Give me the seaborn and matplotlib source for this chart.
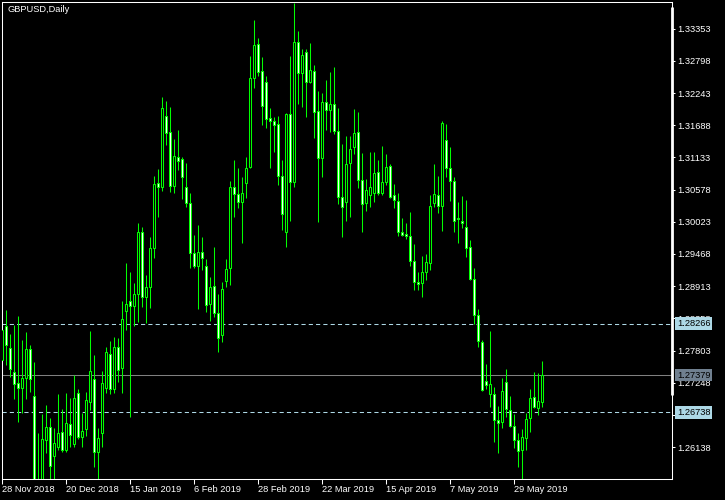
"""
GBPUSD daily candlestick chart, MetaTrader style (black background).
"""

import numpy as np
import pandas as pd
import seaborn as sns
import matplotlib.pyplot as plt
from matplotlib import transforms

# ─── Data ────────────────────────────────────────────────────────────────────

opens = [
    1.2764, 1.2822, 1.2785, 1.2743, 1.2724, 1.2716, 1.2733, 1.2783, 1.2702, 1.2545,
    1.2531, 1.2626, 1.2648, 1.2598, 1.2614, 1.2640, 1.2609, 1.2654, 1.2619, 1.2707,
    1.2631, 1.2645, 1.2692, 1.2731, 1.2605, 1.2638, 1.2716, 1.2774, 1.2714, 1.2786,
    1.2750, 1.2848, 1.2866, 1.2857, 1.2878, 1.2985, 1.2873, 1.2890, 1.2957, 1.3069,
    1.3062, 1.3185, 1.3157, 1.3064, 1.3114, 1.3111, 1.3062, 1.3035, 1.2949, 1.2926,
    1.2950, 1.2926, 1.2861, 1.2892, 1.2845, 1.2807, 1.2900, 1.2923, 1.3062, 1.3050,
    1.3036, 1.3069, 1.3097, 1.3250, 1.3309, 1.3262, 1.3243, 1.3181, 1.3176, 1.3171,
    1.3081, 1.2985, 1.3188, 1.3071, 1.3312, 1.3259, 1.3295, 1.3243, 1.3262, 1.3193,
    1.3112, 1.3209, 1.3195, 1.3205, 1.3159, 1.3045, 1.3036, 1.3104, 1.3131, 1.3157,
    1.3074, 1.3035, 1.3048, 1.3052, 1.3088, 1.3052, 1.3071, 1.3099, 1.3048, 1.3038,
    1.2985, 1.2981, 1.2978, 1.2935, 1.2898, 1.2897, 1.2916, 1.2931, 1.3035, 1.3048,
    1.3030, 1.3143, 1.3095, 1.3073, 1.3009, 1.3004, 1.2993, 1.2959, 1.2904, 1.2842,
    1.2795, 1.2728, 1.2705, 1.2705, 1.2660, 1.2657, 1.2726, 1.2678, 1.2650, 1.2626,
    1.2609, 1.2629, 1.2664, 1.2700, 1.2681, 1.2692,
]
highs = [
    1.2833, 1.2850, 1.2809, 1.2824, 1.2840, 1.2798, 1.2812, 1.2790, 1.2760, 1.2638,
    1.2671, 1.2686, 1.2664, 1.2647, 1.2705, 1.2679, 1.2707, 1.2698, 1.2738, 1.2714,
    1.2672, 1.2709, 1.2814, 1.2773, 1.2647, 1.2745, 1.2786, 1.2797, 1.2804, 1.2802,
    1.2866, 1.2931, 1.2916, 1.2897, 1.3000, 1.2993, 1.2910, 1.2976, 1.3081, 1.3093,
    1.3217, 1.3211, 1.3200, 1.3145, 1.3161, 1.3114, 1.3104, 1.3052, 1.2980, 1.2997,
    1.2976, 1.2938, 1.2907, 1.2959, 1.2878, 1.2898, 1.2938, 1.3073, 1.3109, 1.3095,
    1.3080, 1.3114, 1.3288, 1.3350, 1.3319, 1.3287, 1.3254, 1.3198, 1.3183, 1.3185,
    1.3109, 1.3190, 1.3288, 1.3380, 1.3331, 1.3300, 1.3300, 1.3311, 1.3273, 1.3228,
    1.3224, 1.3247, 1.3261, 1.3269, 1.3198, 1.3136, 1.3150, 1.3150, 1.3197, 1.3192,
    1.3121, 1.3076, 1.3123, 1.3123, 1.3109, 1.3133, 1.3119, 1.3102, 1.3067, 1.3052,
    1.3009, 1.3000, 1.3019, 1.2964, 1.2916, 1.2943, 1.2947, 1.3048, 1.3102, 1.3081,
    1.3176, 1.3171, 1.3131, 1.3080, 1.3036, 1.3047, 1.3040, 1.2971, 1.2923, 1.2852,
    1.2798, 1.2757, 1.2814, 1.2717, 1.2685, 1.2733, 1.2748, 1.2702, 1.2671, 1.2638,
    1.2645, 1.2672, 1.2714, 1.2743, 1.2742, 1.2762,
]
lows = [
    1.2742, 1.2755, 1.2735, 1.2697, 1.2657, 1.2672, 1.2697, 1.2709, 1.2528, 1.2505,
    1.2477, 1.2604, 1.2548, 1.2554, 1.2609, 1.2605, 1.2605, 1.2614, 1.2614, 1.2628,
    1.2614, 1.2633, 1.2678, 1.2579, 1.2438, 1.2614, 1.2707, 1.2705, 1.2707, 1.2726,
    1.2707, 1.2816, 1.2666, 1.2822, 1.2829, 1.2855, 1.2828, 1.2854, 1.2940, 1.3010,
    1.3055, 1.3135, 1.3054, 1.3052, 1.3092, 1.3042, 1.3028, 1.2923, 1.2923, 1.2852,
    1.2919, 1.2847, 1.2831, 1.2838, 1.2778, 1.2795, 1.2890, 1.2893, 1.3010, 1.3026,
    1.2966, 1.3043, 1.3095, 1.3233, 1.3254, 1.3169, 1.3164, 1.3095, 1.3123, 1.3066,
    1.2988, 1.2959, 1.3004, 1.3062, 1.3205, 1.3200, 1.3183, 1.3242, 1.3147, 1.3002,
    1.3080, 1.3161, 1.3157, 1.3154, 1.3033, 1.2976, 1.3004, 1.3010, 1.3119, 1.3061,
    1.2985, 1.3021, 1.3028, 1.3036, 1.3048, 1.3048, 1.3066, 1.3043, 1.3026, 1.2978,
    1.2978, 1.2973, 1.2926, 1.2885, 1.2885, 1.2873, 1.2902, 1.2919, 1.3028, 1.3017,
    1.2986, 1.3080, 1.3038, 1.2985, 1.2966, 1.2992, 1.2942, 1.2902, 1.2826, 1.2786,
    1.2710, 1.2714, 1.2683, 1.2622, 1.2604, 1.2647, 1.2666, 1.2648, 1.2612, 1.2579,
    1.2559, 1.2609, 1.2640, 1.2681, 1.2669, 1.2683,
]
closes = [
    1.2816, 1.2790, 1.2748, 1.2722, 1.2716, 1.2733, 1.2783, 1.2731, 1.2548, 1.2522,
    1.2628, 1.2648, 1.2581, 1.2621, 1.2638, 1.2609, 1.2655, 1.2635, 1.2698, 1.2631,
    1.2642, 1.2695, 1.2745, 1.2605, 1.2629, 1.2724, 1.2778, 1.2714, 1.2786, 1.2747,
    1.2835, 1.2861, 1.2857, 1.2878, 1.2985, 1.2873, 1.2890, 1.2957, 1.3067, 1.3062,
    1.3198, 1.3155, 1.3064, 1.3116, 1.3107, 1.3080, 1.3035, 1.2949, 1.2926, 1.2950,
    1.2940, 1.2859, 1.2890, 1.2845, 1.2802, 1.2886, 1.2921, 1.3062, 1.3050, 1.3036,
    1.3052, 1.3095, 1.3250, 1.3307, 1.3261, 1.3202, 1.3180, 1.3176, 1.3169, 1.3081,
    1.3016, 1.3188, 1.3071, 1.3312, 1.3259, 1.3290, 1.3243, 1.3264, 1.3192, 1.3112,
    1.3209, 1.3195, 1.3205, 1.3159, 1.3045, 1.3028, 1.3102, 1.3128, 1.3155, 1.3074,
    1.3033, 1.3057, 1.3062, 1.3086, 1.3052, 1.3071, 1.3097, 1.3045, 1.3040, 1.2985,
    1.2980, 1.2978, 1.2935, 1.2898, 1.2895, 1.2916, 1.2933, 1.3030, 1.3050, 1.3030,
    1.3173, 1.3095, 1.3073, 1.3004, 1.3007, 1.3000, 1.2957, 1.2904, 1.2842, 1.2797,
    1.2712, 1.2721, 1.2722, 1.2660, 1.2655, 1.2710, 1.2679, 1.2650, 1.2626, 1.2607,
    1.2631, 1.2662, 1.2698, 1.2683, 1.2693, 1.2738,
]

date_labels = ["28 Nov 2018", "20 Dec 2018", "15 Jan 2019", "6 Feb 2019", "28 Feb 2019",
               "22 Mar 2019", "15 Apr 2019", "7 May 2019", "29 May 2019"]
price_ticks = [1.33353, 1.32798, 1.32243, 1.31688, 1.31133, 1.30578, 1.30023,
               1.29468, 1.28913, 1.28358, 1.27803, 1.27248, 1.26693, 1.26138]
upper_level = 1.28266
last_price = 1.27379
lower_level = 1.26738

# ─── Style ───────────────────────────────────────────────────────────────────

GREEN = "#00ff00"
LEVEL_BLUE = "#add8e6"
FS = 6.7

sns.set_theme(style="dark", rc={
    "figure.facecolor": "black",
    "axes.facecolor": "black",
    "axes.edgecolor": "white",
    "axes.linewidth": 0.75,
    "axes.grid": False,
})
plt.rcParams["font.family"] = ["Liberation Sans", "DejaVu Sans"]

df = pd.DataFrame({"open": opens, "high": highs, "low": lows, "close": closes})
df["bar"] = np.arange(len(df))
df["bull"] = df["close"] >= df["open"]

fig = plt.figure(figsize=(7.25, 5), dpi=100)
ax = fig.add_axes([2 / 725, 21 / 500, 670 / 725, 477 / 500])

# ─── Level lines ─────────────────────────────────────────────────────────────

ax.axhline(upper_level, color=LEVEL_BLUE, lw=0.75, dashes=(4, 3), zorder=1)
ax.axhline(lower_level, color=LEVEL_BLUE, lw=0.75, dashes=(4, 3), zorder=1)
ax.axhline(last_price, color="#808080", lw=0.75, zorder=1)

# ─── Candles ─────────────────────────────────────────────────────────────────

ax.vlines(df["bar"], df["low"], df["high"], color=GREEN, lw=0.75, zorder=2)
ax.bar(
    df["bar"],
    (df["close"] - df["open"]).abs(),
    bottom=df[["open", "close"]].min(axis=1),
    width=0.5,
    color=np.where(df["bull"], "black", "white"),
    edgecolor=GREEN,
    linewidth=0.75,
    zorder=3,
)

ax.set_xlim(-0.075, 167.425)
ax.set_ylim(1.25587, 1.33814)

# ─── Axes ────────────────────────────────────────────────────────────────────

ax.set_xticks(df["bar"][::16][:len(date_labels)])
ax.set_xticklabels(date_labels, ha="left")
ax.tick_params(axis="x", colors="white", labelcolor="white", labelsize=FS,
               length=3.6, width=0.75, pad=0.5, direction="out", bottom=True)

ax.yaxis.tick_right()
ax.set_yticks(price_ticks)
ax.set_yticklabels([f"{p:.5f}" for p in price_ticks])
ax.tick_params(axis="y", colors="white", labelcolor="white", labelsize=FS,
               length=2.2, width=0.75, pad=1.5, direction="out", right=True)

for side in ["left", "right", "top", "bottom"]:
    ax.spines[side].set_visible(True)
    ax.spines[side].set_color("white")
    ax.spines[side].set_linewidth(0.75)

# thicker piece of the price scale border
ax.plot([1, 1], [0.176, 0.9895], transform=ax.transAxes, color="white",
        lw=2, clip_on=False, solid_capstyle="butt", zorder=4)

# price labels with coloured boxes
trans = transforms.blended_transform_factory(ax.transAxes, ax.transData)
for value, box in [(upper_level, LEVEL_BLUE), (last_price, "#708090"), (lower_level, LEVEL_BLUE)]:
    ax.text(1.0075, value, f"{value:.5f}", transform=trans, color="black",
            fontsize=FS, va="center", ha="left", clip_on=False, zorder=6,
            bbox=dict(boxstyle="square,pad=0.2", fc=box, ec="none"))

fig.text(7 / 725, 1 - 10 / 500, "GBPUSD,Daily", color="white", fontsize=FS,
         va="center", ha="left")

fig.savefig("out.png", dpi=100, facecolor="black")
